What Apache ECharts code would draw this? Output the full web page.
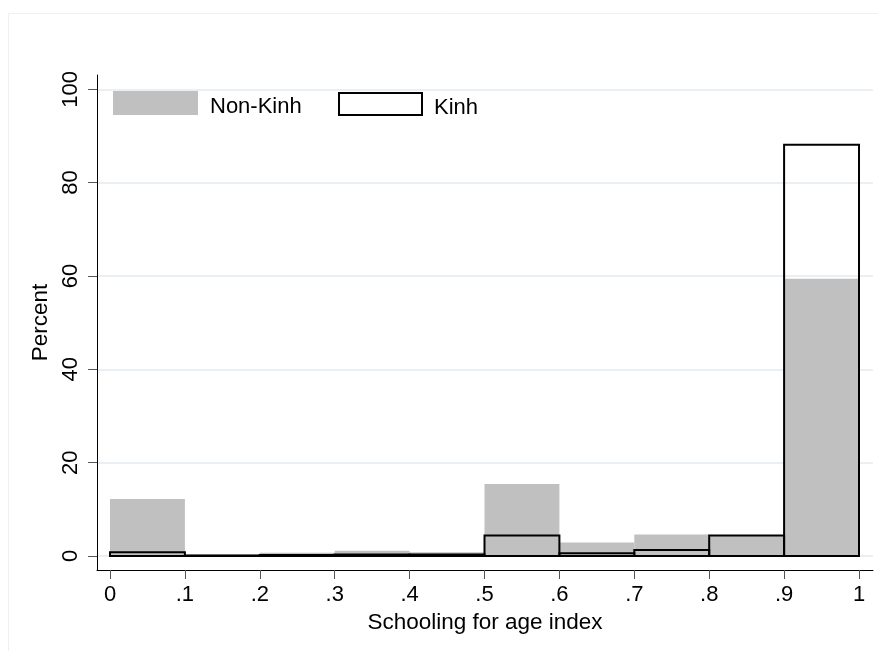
<!DOCTYPE html>
<html>
<head>
<meta charset="utf-8">
<script src="https://cdn.jsdelivr.net/npm/echarts@6/dist/echarts.min.js"></script>
<style>
html,body{margin:0;padding:0;background:#fff;}
#chart{width:878px;height:651px;}
</style>
</head>
<body>
<div id="chart"></div>
<script>
// Bin starts (width 0.1)
var binStarts = [0, 0.1, 0.2, 0.3, 0.4, 0.5, 0.6, 0.7, 0.8, 0.9];
var binWidth = 0.1;
// Percent per bin
var nonKinh = [12.2, 0.3, 0.7, 1.1, 0.8, 15.4, 2.9, 4.6, 4.3, 59.4];
var kinh    = [0.8, 0.1, 0.2, 0.3, 0.3, 4.4, 0.6, 1.3, 4.4, 88.1];
// Tick values / labels
var xTickValues = [0, 0.1, 0.2, 0.3, 0.4, 0.5, 0.6, 0.7, 0.8, 0.9, 1];
var xTickLabels = ['0', '.1', '.2', '.3', '.4', '.5', '.6', '.7', '.8', '.9', '1'];
var yTickValues = [0, 20, 40, 60, 80, 100];

var FONT = "'Liberation Sans', Arial, Helvetica, sans-serif";
var FS = 22;

function makeData(vals) {
  return binStarts.map(function (s, i) { return [s, s + binWidth, vals[i]]; });
}

var chart = echarts.init(document.getElementById('chart'), null, {renderer: 'canvas'});

var legendText = {
  fontFamily: FONT, fontSize: FS, color: '#000',
  rich: {t: {fontFamily: FONT, fontSize: FS, color: '#000', padding: [7, 0, 0, 7]}}
};

var option = {
  backgroundColor: '#fff',
  animation: false,
  graphic: [{
    type: 'rect', silent: true, z: -10,
    shape: {x: 8.5, y: 13.5, width: 900, height: 700},
    style: {fill: 'none', stroke: '#eef1f3', lineWidth: 1}
  }],
  grid: {left: 97, top: 75, right: 5, bottom: 81, containLabel: false},
  legend: [{
    left: 113, top: 91, padding: 0,
    itemWidth: 85, itemHeight: 24,
    icon: 'rect',
    data: [{name: 'Non-Kinh', itemStyle: {color: '#c0c0c0', borderWidth: 0}}],
    formatter: '{t|{name}}',
    textStyle: legendText,
    selectedMode: false
  }, {
    left: 338, top: 92, padding: 0,
    itemWidth: 83, itemHeight: 22,
    icon: 'rect',
    data: [{name: 'Kinh', itemStyle: {color: '#fff', borderColor: '#000', borderWidth: 2}}],
    formatter: '{t|{name}}',
    textStyle: legendText,
    selectedMode: false
  }],
  xAxis: {
    type: 'value',
    min: -13 / 749,
    max: 1 + 14 / 749,
    name: 'Schooling for age index',
    nameLocation: 'middle',
    nameGap: 37,
    nameTextStyle: {fontFamily: FONT, fontSize: 22.5, color: '#000'},
    axisLine: {show: true, onZero: false, lineStyle: {color: '#000', width: 1}},
    axisTick: {show: true, length: 9, customValues: xTickValues, lineStyle: {color: '#555', width: 1}},
    axisLabel: {
      customValues: xTickValues,
      margin: 14,
      fontFamily: FONT, fontSize: FS, color: '#000',
      formatter: function (v) {
        var idx = xTickValues.findIndex(function (t) { return Math.abs(t - v) < 1e-9; });
        return idx >= 0 ? xTickLabels[idx] : '';
      }
    },
    splitLine: {show: false}
  },
  yAxis: {
    type: 'value',
    min: -3,
    max: 103.06,
    name: 'Percent',
    nameLocation: 'middle',
    nameGap: 41,
    nameRotate: 90,
    nameTextStyle: {fontFamily: FONT, fontSize: 22.5, color: '#000'},
    axisLine: {show: true, onZero: false, lineStyle: {color: '#000', width: 1}},
    axisTick: {show: true, length: 9, customValues: yTickValues, lineStyle: {color: '#555', width: 1}},
    axisLabel: {
      customValues: yTickValues,
      rotate: 90,
      margin: 15,
      fontFamily: FONT, fontSize: FS, color: '#000'
    },
    splitLine: {show: true, lineStyle: {color: '#e9eff2', width: 2}}
  },
  series: [{
    name: 'Non-Kinh',
    type: 'custom',
    itemStyle: {color: '#c0c0c0'},
    encode: {x: [0, 1], y: 2},
    data: makeData(nonKinh),
    z: 2,
    renderItem: function (params, api) {
      var p0 = api.coord([api.value(0), 0]);
      var p1 = api.coord([api.value(1), api.value(2)]);
      return {
        type: 'rect',
        shape: {x: p0[0], y: p1[1], width: p1[0] - p0[0], height: p0[1] - p1[1]},
        style: {fill: '#c0c0c0', stroke: null}
      };
    }
  }, {
    name: 'Kinh',
    type: 'custom',
    itemStyle: {color: '#fff', borderColor: '#000', borderWidth: 2},
    encode: {x: [0, 1], y: 2},
    data: makeData(kinh),
    z: 3,
    renderItem: function (params, api) {
      var p0 = api.coord([api.value(0), 0]);
      var p1 = api.coord([api.value(1), api.value(2)]);
      return {
        type: 'rect',
        shape: {x: p0[0], y: p1[1], width: p1[0] - p0[0], height: p0[1] - p1[1]},
        style: {fill: 'none', stroke: '#000', lineWidth: 2}
      };
    }
  }]
};

chart.setOption(option);
</script>
</body>
</html>
